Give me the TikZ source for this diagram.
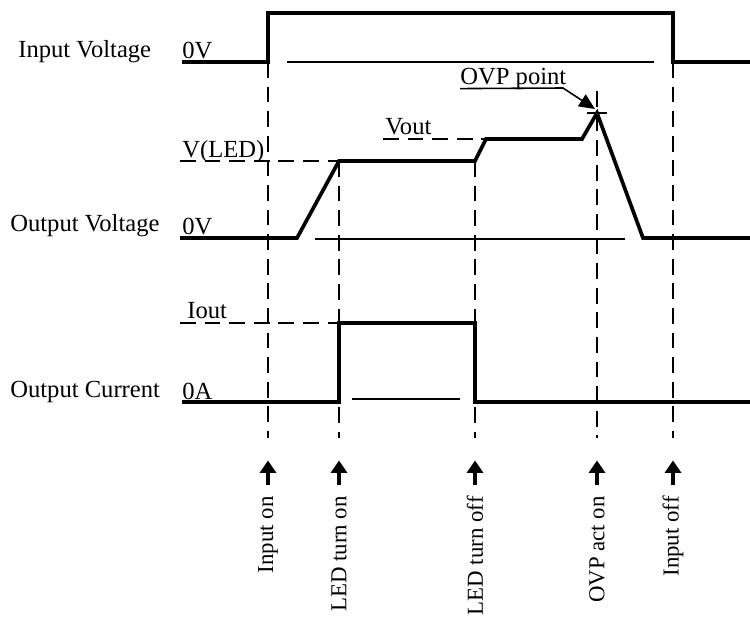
\documentclass[tikz,border=0pt]{standalone}
\usepackage{fontspec}
\setmainfont{Liberation Serif}
\usetikzlibrary{arrows.meta}
\begin{document}
\begin{tikzpicture}[x=0.02cm,y=-0.02cm,
    wave/.style={line width=2.1pt},
    hint/.style={line width=0.9pt},
    guide/.style={line width=1.3pt,dash pattern=on 9pt off 5pt},
    event/.style={line width=2pt,-{Triangle[width=9pt,length=7pt]}},
    lbl/.style={font=\fontsize{14}{16}\selectfont,inner sep=0pt},
    evlbl/.style={font=\fontsize{13}{15}\selectfont,inner sep=0pt,rotate=90,anchor=east}]
    \useasboundingbox (0,0) rectangle (750,621);
    % signal names and levels
    \begin{scope}[every node/.style={lbl,anchor=base west}]
      \node (vin) at (18,58) {Input Voltage};
      \node (vout) at (10,232) {Output Voltage};
      \node (iout) at (10,397) {Output Current};
      \node (vin0) at (182,59) {0V};
      \node (vout0) at (182,235) {0V};
      \node (vled) at (182,158) {V(LED)};
      \node (voutlvl) at (385,135) {Vout};
      \node (iout0) at (182,399) {0A};
      \node (ioutlvl) at (187,318) {Iout};
      \node (ovppt) at (460,85) {OVP point};
    \end{scope}
    % event points
    \coordinate (inon) at (268,62);
    \coordinate (ledon) at (339,161);
    \coordinate (ledoff) at (475,161);
    \coordinate (ovp) at (597,91);
    \coordinate (ovppeak) at (597,113);
    \coordinate (inoff) at (673,62);
    \coordinate (floor) at (0,438);
    % waveforms
    \draw[wave] (182,62) -- (inon) -- (268,13) -- (673,13) -- (inoff) -- (750,62);
    \draw[wave] (180,238) -- (297,238) -- (ledon) -- (ledoff) -- (486,139)
      -- (582,139) -- (ovppeak) -- (643,238) -- (750,238);
    \draw[wave] (182,402) -- (339,402) -- (339,323) -- (475,323) -- (475,402) -- (750,402);
    \draw[hint] (287,62) -- (654,62);
    \draw[hint] (315,239) -- (625,239);
    \draw[hint] (352,399) -- (460,399);
    % levels and markers
    \draw[guide] (180,161) -- (ledon);
    \draw[guide] (383,139) -- (486,139);
    \draw[guide] (180,323) -- (339,323);
    \draw[hint] (587,113) -- (607,113);
    \draw[hint,-{Triangle[width=8pt,length=9pt]}] (ovppt.south west) ++(0,-2) -- (563,88) -- (595,109);
    % event guides
    \draw[guide] (inon) -- (inon |- floor);
    \draw[guide] (ledon) -- (ledon |- floor);
    \draw[guide] (ledoff) -- (ledoff |- floor);
    \draw[guide] (ovp) -- (ovp |- floor);
    \draw[guide] (inoff) -- (inoff |- floor);
    % event labels
    \node[evlbl] (inonlbl) at (268,496) {Input on};
    \node[evlbl] (ledonlbl) at (339,496) {LED turn on};
    \node[evlbl] (ledofflbl) at (475,496) {LED turn off};
    \node[evlbl] (ovplbl) at (597,496) {OVP act on};
    \node[evlbl] (inofflbl) at (673,496) {Input off};
    \begin{scope}[every path/.style={event}]
      \draw ([yshift=6pt]inonlbl.east) -- ++(0,-25);
      \draw ([yshift=6pt]ledonlbl.east) -- ++(0,-25);
      \draw ([yshift=6pt]ledofflbl.east) -- ++(0,-25);
      \draw ([yshift=6pt]ovplbl.east) -- ++(0,-25);
      \draw ([yshift=6pt]inofflbl.east) -- ++(0,-25);
    \end{scope}
\end{tikzpicture}
\end{document}
